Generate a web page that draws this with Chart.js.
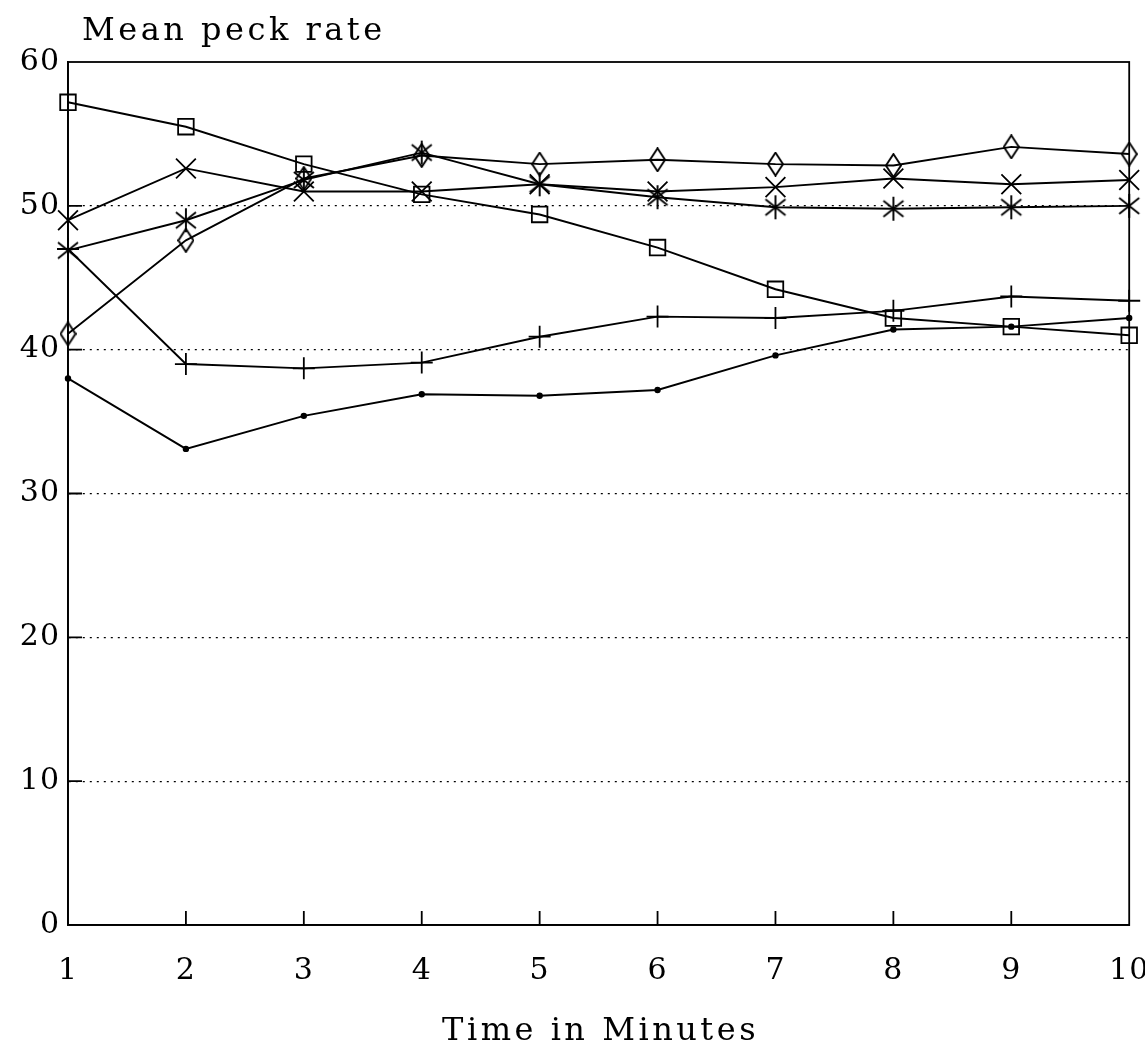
<!DOCTYPE html>
<html>
<head>
<meta charset="utf-8">
<script src="https://cdn.jsdelivr.net/npm/chart.js@4"></script>
<style>
  html, body { margin: 0; background: #fff; }
  #wrap { width: 1145px; height: 1054px; }
</style>
</head>
<body>
<div id="wrap"><canvas id="chart"></canvas></div>
<script>
const minutes = ['1', '2', '3', '4', '5', '6', '7', '8', '9', '10'];
const rateTicks = [0, 10, 20, 30, 40, 50, 60];

// mean peck rate per minute, one array per marker
const squareRate  = [57.2, 55.5, 52.9, 50.8, 49.4, 47.1, 44.2, 42.2, 41.6, 41.0];
const diamondRate = [41.1, 47.6, 51.9, 53.5, 52.9, 53.2, 52.9, 52.8, 54.1, 53.6];
const crossRate   = [49.0, 52.6, 51.0, 51.0, 51.5, 51.0, 51.3, 51.9, 51.5, 51.8];
const starRate    = [46.9, 49.0, 51.8, 53.7, 51.5, 50.6, 49.9, 49.8, 49.9, 50.0];
const plusRate    = [47.0, 39.0, 38.7, 39.1, 40.9, 42.3, 42.2, 42.7, 43.7, 43.4];
const dotRate     = [38.0, 33.1, 35.4, 36.9, 36.8, 37.2, 39.6, 41.4, 41.6, 42.2];

const serif = '"DejaVu Serif", "Liberation Serif", serif';

// small canvases used as marker images
function marker(w, h, draw) {
    const c = document.createElement('canvas');
    c.width = w;
    c.height = h;
    const g = c.getContext('2d');
    g.strokeStyle = '#000';
    g.lineWidth = 1.9;
    g.beginPath();
    draw(g, w, h);
    g.stroke();
    return c;
}

const tallDiamond = marker(17, 25, (g, w, h) => {
    g.moveTo(w / 2, 1);
    g.lineTo(w - 1, h / 2);
    g.lineTo(w / 2, h - 1);
    g.lineTo(1, h / 2);
    g.closePath();
});

const asterisk = marker(26, 26, (g, w, h) => {
    g.moveTo(w / 2, 1);
    g.lineTo(w / 2, h - 1);
    g.moveTo(3, 5);
    g.lineTo(w - 3, h - 5);
    g.moveTo(w - 3, 5);
    g.lineTo(3, h - 5);
});

function series(label, data, style, radius, fill) {
    return {
        label: label,
        data: data,
        borderColor: '#000',
        borderWidth: 1.9,
        pointStyle: style,
        pointRadius: radius,
        pointBorderWidth: 1.8,
        pointBorderColor: '#000',
        pointBackgroundColor: fill || 'transparent',
        tension: 0
    };
}

// box round the plot, inward ticks and both titles
const frame = {
    id: 'frame',
    beforeDraw(chart) {
        chart.ctx.letterSpacing = '1px';
    },
    afterDraw(chart) {
        const ctx = chart.ctx;
        const a = chart.chartArea;
        const x = chart.scales.x;
        const y = chart.scales.y;
        ctx.save();
        ctx.strokeStyle = '#000';
        ctx.lineWidth = 1.8;
        ctx.strokeRect(a.left, a.top, a.right - a.left, a.bottom - a.top);
        ctx.beginPath();
        for (let i = 1; i < minutes.length - 1; i++) {
            const px = x.getPixelForValue(i);
            ctx.moveTo(px, a.bottom);
            ctx.lineTo(px, a.bottom - 14);
        }
        rateTicks.slice(1, -1).forEach(v => {
            const py = y.getPixelForValue(v);
            ctx.moveTo(a.left, py);
            ctx.lineTo(a.left + 14, py);
        });
        ctx.stroke();

        ctx.fillStyle = '#000';
        ctx.font = '32px ' + serif;
        ctx.letterSpacing = '3.5px';
        ctx.textBaseline = 'alphabetic';
        ctx.textAlign = 'left';
        ctx.fillText('Mean peck rate', a.left + 14, 40);
        ctx.textAlign = 'center';
        ctx.fillText('Time in Minutes', (a.left + a.right) / 2 + 2, 1040);
        ctx.restore();
    }
};

new Chart(document.getElementById('chart'), {
    type: 'line',
    data: {
        labels: minutes,
        datasets: [
            series('Square', squareRate, 'rect', 11),
            series('Diamond', diamondRate, tallDiamond, 10),
            series('Cross', crossRate, 'crossRot', 14),
            series('Star', starRate, asterisk, 12),
            series('Plus', plusRate, 'cross', 11),
            series('Dot', dotRate, 'circle', 2.3, '#000')
        ]
    },
    options: {
        responsive: true,
        maintainAspectRatio: false,
        animation: false,
        layout: { padding: { top: 62, right: 15, bottom: 0, left: 0 } },
        plugins: {
            legend: { display: false },
            tooltip: { enabled: false }
        },
        scales: {
            x: {
                type: 'category',
                offset: false,
                grid: { display: false, drawTicks: false },
                border: { display: true, color: '#000', width: 1.8 },
                ticks: {
                    color: '#000',
                    padding: 28,
                    maxRotation: 0,
                    font: { family: serif, size: 30 }
                },
                afterFit(s) {
                    s.height = 129;
                    s.paddingLeft = 0;
                    s.paddingRight = 0;
                }
            },
            y: {
                min: 0,
                max: 60,
                afterBuildTicks(s) {
                    s.ticks = rateTicks.map(v => ({ value: v }));
                },
                grid: {
                    drawTicks: false,
                    lineWidth: 1.3,
                    color: c => (c.tick && (c.tick.value === 0 || c.tick.value === 60)) ? 'rgba(0,0,0,0)' : '#000'
                },
                border: { display: true, color: '#000', width: 1.8, dash: [2, 5] },
                ticks: {
                    color: '#000',
                    padding: 8,
                    font: { family: serif, size: 30 }
                },
                afterFit(s) {
                    s.width = 68;
                    s.paddingTop = 0;
                    s.paddingBottom = 0;
                }
            }
        }
    },
    plugins: [frame]
});
</script>
</body>
</html>
